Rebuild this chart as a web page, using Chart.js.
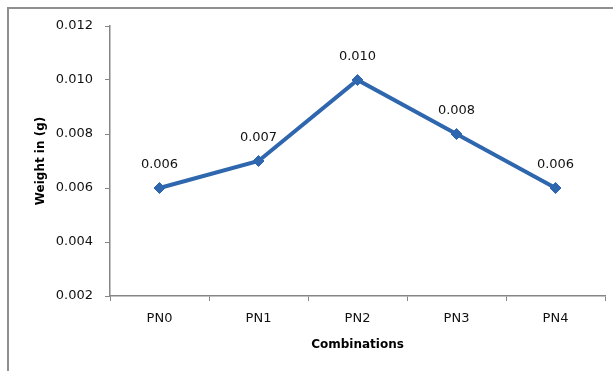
<!DOCTYPE html>
<html>
<head>
<meta charset="utf-8">
<script src="https://cdn.jsdelivr.net/npm/chart.js@4"></script>
<style>
  html, body { margin: 0; padding: 0; background: #fff; }
  #wrap { width: 613px; height: 371px; }
</style>
</head>
<body>
<div id="wrap"><canvas id="weightChart" width="613" height="371"></canvas></div>
<script>
// Data
const combinations = ['PN0', 'PN1', 'PN2', 'PN3', 'PN4'];
const weights = [0.006, 0.007, 0.010, 0.008, 0.006];
const yTicks = [0.002, 0.004, 0.006, 0.008, 0.010, 0.012];

const lineColor = '#2F67AE';
const axisColor = '#868686';
const fontFamily = '"DejaVu Sans", sans-serif';

// outer frame (top and left edges only, as in the picture)
const framePlugin = {
    id: 'frame',
    beforeDraw(chart) {
        const ctx = chart.ctx;
        ctx.save();
        ctx.fillStyle = '#fff';
        ctx.fillRect(0, 0, chart.width, chart.height);
        ctx.strokeStyle = '#8f8f8f';
        ctx.lineWidth = 2;
        ctx.beginPath();
        ctx.moveTo(8, chart.height);
        ctx.lineTo(8, 8);
        ctx.lineTo(chart.width, 8);
        ctx.stroke();
        ctx.restore();
    }
};

// value labels above each point
const valueLabels = {
    id: 'valueLabels',
    afterDatasetsDraw(chart) {
        const ctx = chart.ctx;
        const meta = chart.getDatasetMeta(0);
        ctx.save();
        ctx.font = '13px ' + fontFamily;
        ctx.fillStyle = '#111';
        ctx.textAlign = 'center';
        ctx.textBaseline = 'middle';
        meta.data.forEach((pt, i) => {
            ctx.fillText(weights[i].toFixed(3), pt.x, pt.y - 23);
        });
        ctx.restore();
    }
};

const chart = new Chart(document.getElementById('weightChart').getContext('2d'), {
    type: 'line',
    data: {
        labels: combinations,
        datasets: [{
            data: weights,
            borderColor: lineColor,
            backgroundColor: lineColor,
            borderWidth: 4,
            pointStyle: 'rectRot',
            pointRadius: 5.5,
            pointBorderWidth: 1,
            fill: false,
            tension: 0
        }]
    },
    options: {
        responsive: false,
        animation: false,
        layout: { padding: { top: 26, right: 8, bottom: 0, left: 0 } },
        plugins: {
            legend: { display: false },
            tooltip: { enabled: false }
        },
        scales: {
            x: {
                offset: true,
                grid: {
                    offset: true,
                    drawOnChartArea: false,
                    drawTicks: true,
                    tickLength: 5,
                    color: axisColor
                },
                border: { color: axisColor, width: 1.5 },
                ticks: {
                    color: '#111',
                    padding: 10,
                    font: { family: fontFamily, size: 13 }
                },
                title: {
                    display: true,
                    text: 'Combinations',
                    color: '#000',
                    padding: { top: 0, bottom: 19 },
                    font: { family: fontFamily, size: 12, weight: 'bold' }
                },
                afterFit(scale) { scale.height = 75; }
            },
            y: {
                min: 0.002,
                max: 0.012,
                afterBuildTicks(scale) {
                    scale.ticks = yTicks.map(v => ({ value: v }));
                },
                grid: {
                    drawOnChartArea: false,
                    drawTicks: true,
                    tickLength: 5,
                    color: axisColor
                },
                border: { color: axisColor, width: 1.5 },
                ticks: {
                    color: '#111',
                    padding: 12,
                    font: { family: fontFamily, size: 13 },
                    callback: v => v.toFixed(3)
                },
                title: {
                    display: true,
                    text: 'Weight in (g)',
                    color: '#000',
                    padding: { top: 34, bottom: 0 },
                    font: { family: fontFamily, size: 12, weight: 'bold' }
                },
                afterFit(scale) { scale.width = 110; }
            }
        }
    },
    plugins: [framePlugin, valueLabels]
});
</script>
</body>
</html>
